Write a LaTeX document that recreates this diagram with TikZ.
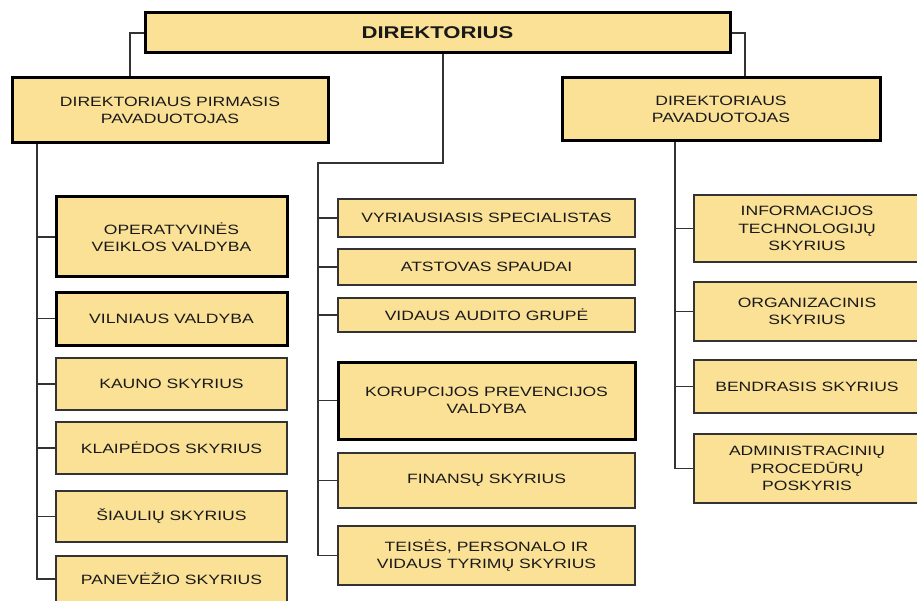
\documentclass[tikz,border=0pt]{standalone}
\usepackage{fontspec}
\setmainfont{Liberation Sans}[FakeStretch=1.3]
\usetikzlibrary{calc}
\definecolor{boxfill}{RGB}{250,225,150}
\newcommand{\orgfont}{\fontsize{13.5}{17.5}\selectfont}
\newcommand{\headfont}{\bfseries\fontsize{17}{20}\selectfont}

\begin{document}
\begin{tikzpicture}[x = 1pt, y = -1pt,
		box/.style = {draw = black!80, fill = boxfill, line width = 1.3pt, align = center, inner sep = 2pt, text = black!90, font = \orgfont},
		bigbox/.style = {box, draw = black, line width = 3pt},
		link/.style = {draw = black!80, line width = 1.3pt}]
	\def\xL{171.5}
	\def\wL{231pt}
	\def\xM{486.5}
	\def\wM{297pt}
	\def\xR{807}
	\def\wR{226pt}

	\useasboundingbox (0,0) rectangle (917,601);
	\clip (0,0) rectangle (917,601);

	\begin{scope}
		\node [bigbox, minimum width = 585pt, minimum height = 40pt, font = \headfont] (dir) at (437.5,33) {DIREKTORIUS};
		\node [bigbox, minimum width = 316pt, minimum height = 65pt] (dpp) at (170,110.5) {DIREKTORIAUS PIRMASIS\\PAVADUOTOJAS};
		\node [bigbox, minimum width = 318pt, minimum height = 63pt] (dp) at (721,109.5) {DIREKTORIAUS\\PAVADUOTOJAS};
	\end{scope}

	% kaire
	\begin{scope}[every node/.append style = {minimum width = \wL}]
		\node [bigbox, minimum height = 80pt] (oper) at (\xL,237) {OPERATYVINĖS\\VEIKLOS VALDYBA};
		\node [bigbox, minimum height = 53pt] (vilnius) at (\xL,318.5) {VILNIAUS VALDYBA};
		\node [box, minimum height = 52pt] (kaunas) at (\xL,384) {KAUNO SKYRIUS};
		\node [box, minimum height = 52pt] (klaipeda) at (\xL,448) {KLAIPĖDOS SKYRIUS};
		\node [box, minimum height = 51pt] (siauliai) at (\xL,516.5) {ŠIAULIŲ SKYRIUS};
		\node [box, minimum height = 46pt] (panevezys) at (\xL,579) {PANEVĖŽIO SKYRIUS};
	\end{scope}

	% vidurys
	\begin{scope}[every node/.append style = {minimum width = \wM}]
		\node [box, minimum height = 38pt] (vyr) at (\xM,218) {VYRIAUSIASIS SPECIALISTAS};
		\node [box, minimum height = 36pt] (spauda) at (\xM,267) {ATSTOVAS SPAUDAI};
		\node [box, minimum height = 34pt] (auditas) at (\xM,315) {VIDAUS AUDITO GRUPĖ};
		\node [bigbox, minimum height = 77pt] (korup) at (\xM,400.5) {KORUPCIJOS PREVENCIJOS\\VALDYBA};
		\node [box, minimum height = 55pt] (finansai) at (\xM,480.5) {FINANSŲ SKYRIUS};
		\node [box, minimum height = 59pt] (teise) at (\xM,555.5) {TEISĖS, PERSONALO IR\\VIDAUS TYRIMŲ SKYRIUS};
	\end{scope}

	% desine
	\begin{scope}[every node/.append style = {minimum width = \wR}]
		\node [box, minimum height = 67pt] (it) at (\xR,228.5) {INFORMACIJOS\\TECHNOLOGIJŲ\\SKYRIUS};
		\node [box, minimum height = 59pt] (org) at (\xR,311.5) {ORGANIZACINIS\\SKYRIUS};
		\node [box, minimum height = 53pt] (bendr) at (\xR,386.5) {BENDRASIS SKYRIUS};
		\node [box, minimum height = 69pt] (admin) at (\xR,468.5) {ADMINISTRACINIŲ\\PROCEDŪRŲ\\POSKYRIS};
	\end{scope}

	\coordinate (ltop) at (130,0);
	\coordinate (rtop) at (745,0);
	\coordinate (mjoint) at (443,163);
	\coordinate (mspine) at (318,163);
	\coordinate (lspine) at (37,0);
	\coordinate (rspine) at (675,0);

	\begin{scope}[link]
		\draw (dir.west) -| (ltop |- dpp.north);
		\draw (dir.east) -| (rtop |- dp.north);
		\draw (dir.south -| mjoint) -- (mjoint) -- (mspine) |- (teise.west);
		\draw (dpp.south -| lspine) |- (panevezys.west);
		\draw (dp.south -| rspine) |- (admin.west);
		\foreach \n in {oper, vilnius, kaunas, klaipeda, siauliai}
			\draw (lspine |- \n.west) -- (\n.west);
		\foreach \n in {vyr, spauda, auditas, korup, finansai}
			\draw (mspine |- \n.west) -- (\n.west);
		\foreach \n in {it, org, bendr}
			\draw (rspine |- \n.west) -- (\n.west);
	\end{scope}
\end{tikzpicture}
\end{document}
